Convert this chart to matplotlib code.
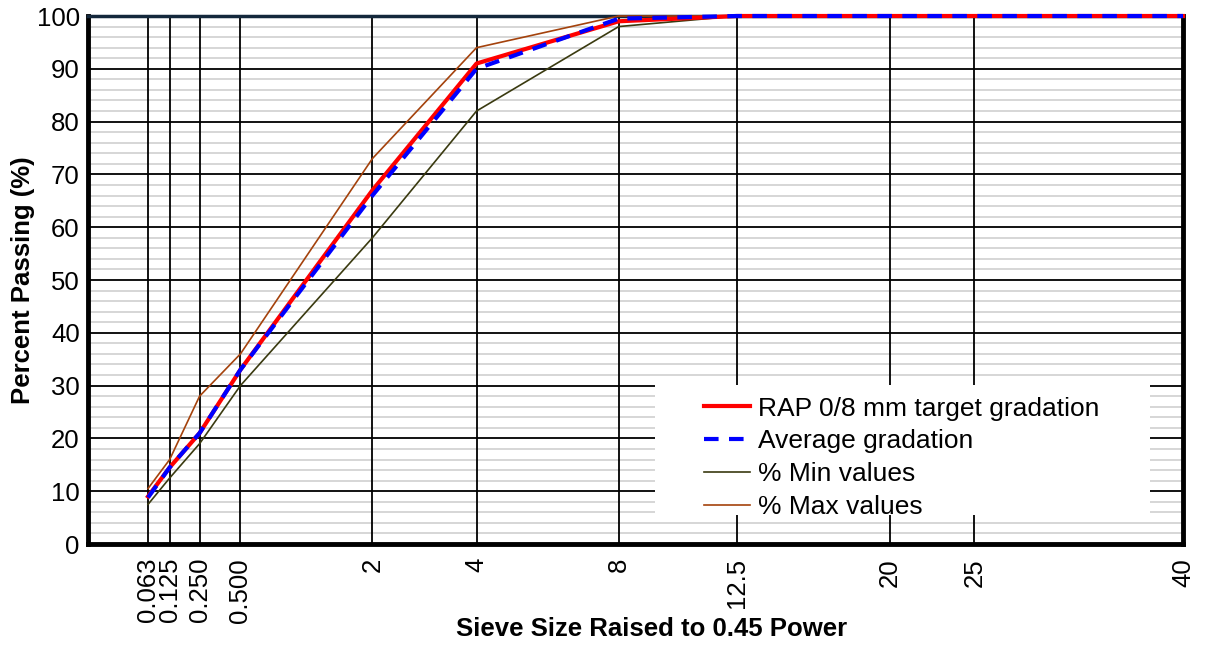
import numpy as np
import matplotlib
matplotlib.use("Agg")
import matplotlib.pyplot as plt
from matplotlib.patches import Rectangle

# sieve sizes (mm) and % passing
sieves = [0.063, 0.125, 0.25, 0.5, 2, 4, 8, 12.5, 20, 25, 40]
tick_labels = ['0.063', '0.125', '0.250', '0.500', '2', '4', '8', '12.5', '20', '25', '40']
target = [9, 14.5, 21, 33, 67, 91, 99, 100, 100, 100, 100]
average = [8.8, 14.5, 21, 33, 66, 90, 99.5, 100, 100, 100, 100]
min_vals = [7.5, 12.5, 19, 30, 58, 82, 98, 100, 100, 100, 100]
max_vals = [10.5, 16, 28, 36, 73, 94, 100, 100, 100, 100, 100]

plt.rcParams['font.family'] = ['Liberation Sans', 'DejaVu Sans']

x = np.array(sieves) ** 0.45

fig = plt.figure(figsize=(12.05, 6.48), dpi=100)
ax = fig.add_axes([88/1205, 1-544/648, (1183-88)/1205, (544-16)/648])

ax.set_xlim(0, x[-1])
ax.set_ylim(0, 100)

ax.set_yticks(np.arange(0, 101, 10))
ax.set_xticks(x)
ax.set_xticklabels(tick_labels, rotation=90)
ax.tick_params(axis='both', length=0, labelsize=18.5)
ax.tick_params(axis='x', pad=10)
ax.tick_params(axis='y', pad=6)

# grid: light minor lines every 2 %, black major lines on top
for v in np.arange(2, 100, 2):
    if v % 10:
        ax.axhline(v, color='#d0d0d0', lw=1.2, zorder=0.5)
for v in np.arange(10, 100, 10):
    ax.axhline(v, color='black', lw=1.3, zorder=1)
for v in x[:-1]:
    ax.axvline(v, color='black', lw=1.3, zorder=1)

ax.plot(x, min_vals, color='#3a3a10', lw=1.2, clip_on=False, zorder=3, label='% Min values')
ax.plot(x, max_vals, color='#a4420c', lw=1.2, clip_on=False, zorder=3, label='% Max values')
ax.plot(x, target, color='#ff0000', lw=3, clip_on=False, zorder=4, label='RAP 0/8 mm target gradation')
ax.plot(x, average, color='#0000ff', lw=3, ls=(0, (3.5, 2.5)), clip_on=False, zorder=5, label='Average gradation')

for s in ['left', 'bottom', 'right']:
    ax.spines[s].set_linewidth(3.5)
    ax.spines[s].set_color('black')
ax.spines['top'].set_linewidth(2.5)
ax.spines['top'].set_color('#14283c')

# legend background
ax.add_patch(Rectangle((0.518, 0.055), 0.452, 0.246, transform=ax.transAxes,
                       facecolor='white', edgecolor='none', zorder=2))
h, l = ax.get_legend_handles_labels()
order = [2, 3, 0, 1]
ax.legend([h[i] for i in order], [l[i] for i in order], loc='upper left',
          bbox_to_anchor=(0.5626, 0.279), frameon=False, fontsize=19,
          borderpad=0, borderaxespad=0, labelspacing=0.33,
          handlelength=1.75, handletextpad=0.3)

ax.set_xlabel('Sieve Size Raised to 0.45 Power', fontsize=18.5, fontweight='bold',
              labelpad=-4, x=0.515)
ax.set_ylabel('Percent Passing (%)', fontsize=18.5, fontweight='bold', labelpad=1)

fig.savefig('out.png', dpi=100)
